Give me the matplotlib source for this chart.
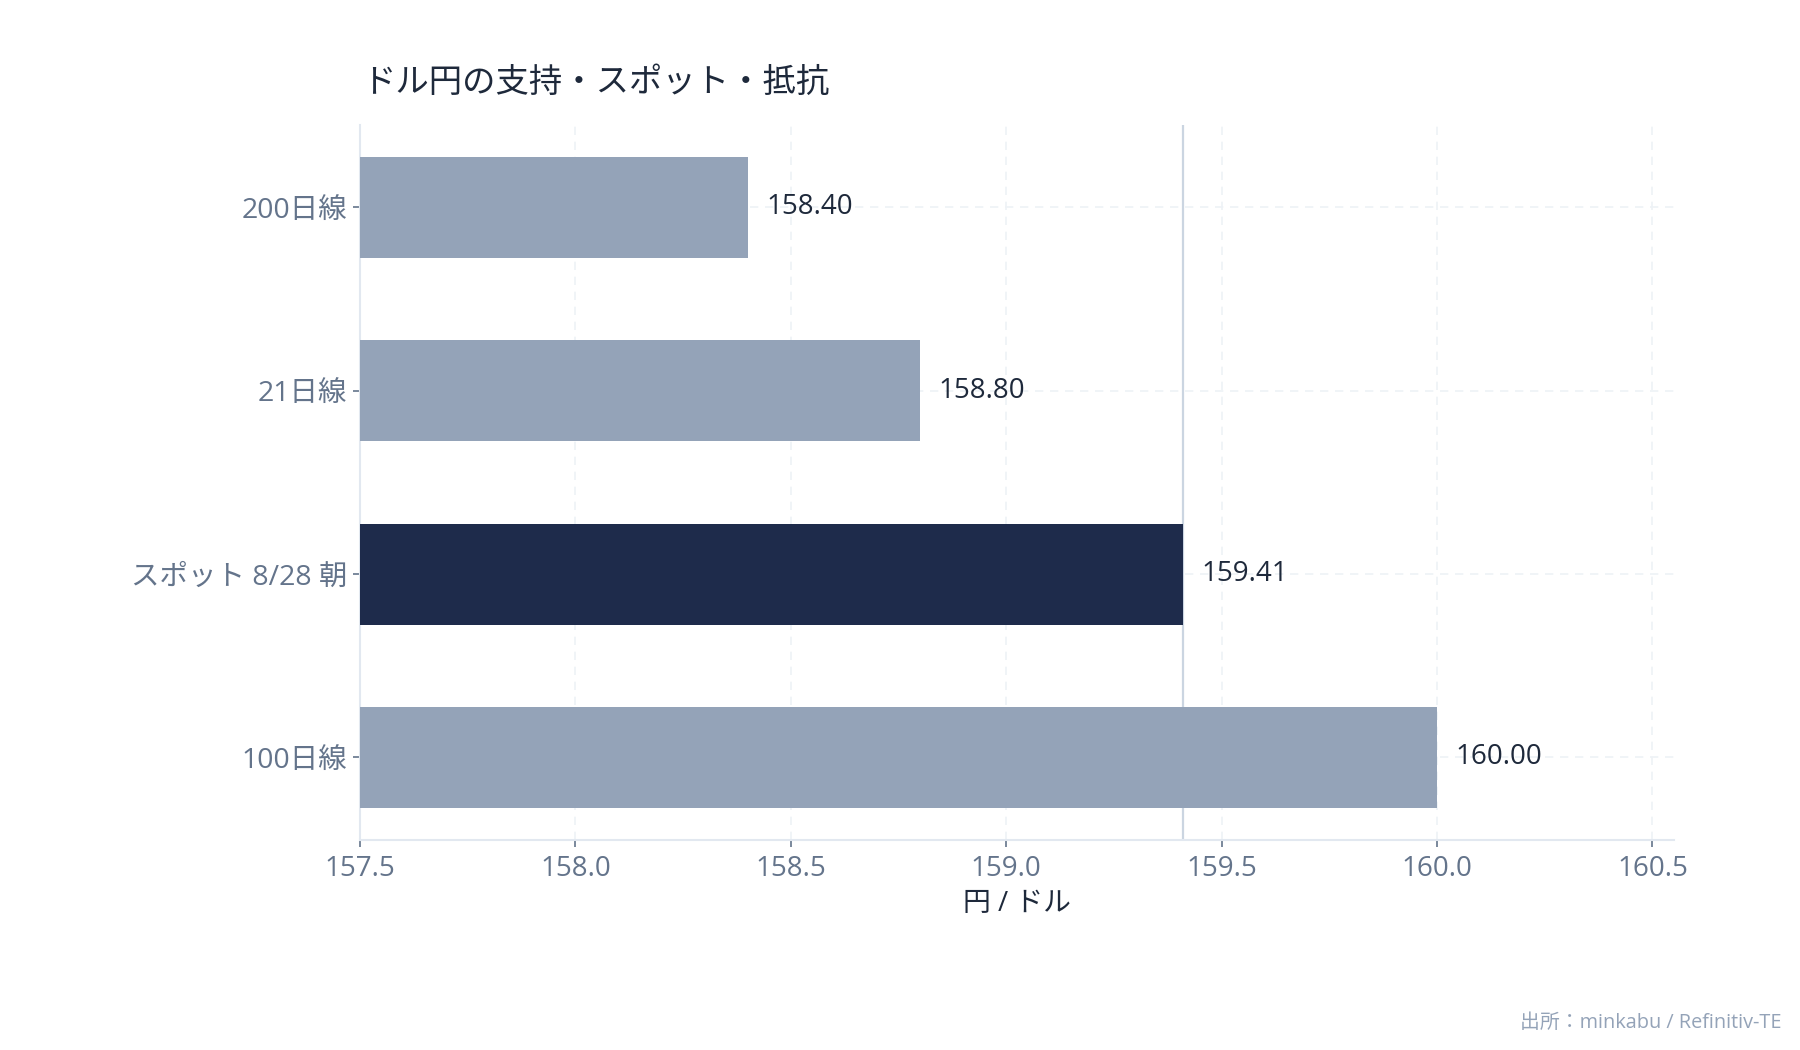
import matplotlib
matplotlib.use('Agg')
import matplotlib.pyplot as plt

plt.rcParams['font.family'] = ['Open Sans', 'Noto Sans CJK JP', 'DejaVu Sans']

labels = ['200日線', '21日線', 'スポット 8/28 朝', '100日線']
values = [158.40, 158.80, 159.41, 160.00]
colors = ['#94a3b8', '#94a3b8', '#1e2b4b', '#94a3b8']
spot = 159.41
x_ticks = [157.5, 158.0, 158.5, 159.0, 159.5, 160.0, 160.5]

fig = plt.figure(figsize=(18, 10.5), dpi=100)
ax = fig.add_axes([0.2, 0.2, 0.73, 0.681])

base = 157.5
ypos = list(range(len(labels)))
ax.barh(ypos, [v - base for v in values], left=base, height=0.55,
        color=colors, zorder=3)
ax.axvline(spot, color='#cbd5e1', lw=1.6, zorder=2)

for y, v in zip(ypos, values):
    ax.text(v + 0.043, y, f'{v:.2f}', va='center', ha='left',
            fontsize=20, color='#1e293b', zorder=4)

ax.set_xlim(157.5, 160.55)
ax.set_ylim(3.45, -0.45)
ax.set_yticks(ypos)
ax.set_yticklabels(labels)
ax.set_xticks(x_ticks)
ax.set_xticklabels([f'{t:.1f}' for t in x_ticks])

ax.grid(True, color='#eef2f6', linestyle=(0, (5, 4)), lw=1.2, zorder=0)
ax.set_axisbelow(True)

for s in ['top', 'right']:
    ax.spines[s].set_visible(False)
for s in ['left', 'bottom']:
    ax.spines[s].set_color('#e2e8f0')
    ax.spines[s].set_linewidth(1.5)

ax.tick_params(axis='both', colors='#64748b', length=5,
               width=1.2, labelcolor='#64748b')
ax.tick_params(axis='x', pad=6, labelsize=20)
ax.tick_params(axis='y', pad=4, labelsize=20.5)

ax.set_xlabel('円 / ドル', fontsize=20, color='#1e293b', labelpad=5)
fig.text(0.201, 0.921, 'ドル円の支持・スポット・抵抗', fontsize=24,
         color='#1e293b', ha='left', va='center')
fig.text(0.9895, 0.026, '出所：minkabu / Refinitiv-TE', fontsize=14.3,
         color='#94a3b8', ha='right', va='center')

fig.savefig('out.png', dpi=100, facecolor='white')
